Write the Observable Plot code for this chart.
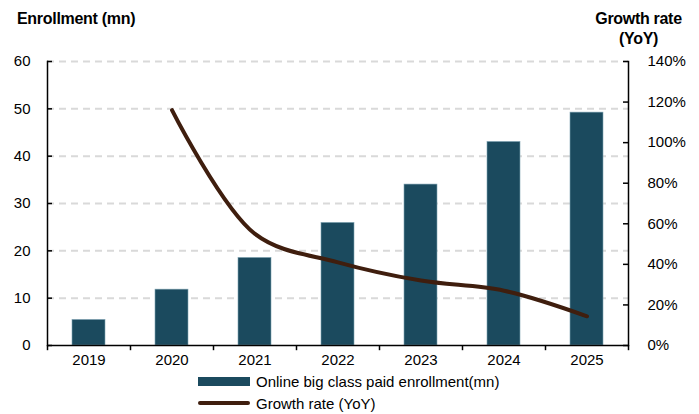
<!DOCTYPE html>
<html>
<head>
<meta charset="utf-8">
<script src="https://cdn.jsdelivr.net/npm/d3@7"></script>
<script src="https://cdn.jsdelivr.net/npm/@observablehq/plot@0.6"></script>
<style>
  html, body { margin: 0; padding: 0; background: #fff; }
  #wrap { position: relative; width: 699px; height: 414px; font-family: "Liberation Sans", Arial, sans-serif; color: #000; }
  #wrap svg { position: absolute; left: 0; top: 0; }
  .title { position: absolute; font-weight: bold; font-size: 16px; letter-spacing: -0.3px; line-height: 20px; }
  .legend { position: absolute; left: 198px; font-size: 15px; }
  .legrow { display: flex; align-items: center; height: 22px; }
  .sw { width: 52px; margin-right: 6px; }
</style>
</head>
<body>
<div id="wrap">
  <div class="title" style="left:17px; top:9px;">Enrollment (mn)</div>
  <div class="title" style="left:590px; width:97px; top:9px; text-align:center;">Growth rate<br>(YoY)</div>
  <div class="legend" style="top:370px;">
    <div class="legrow"><div class="sw" style="height:9px; background:#1b4a5e;"></div><span>Online big class paid enrollment(mn)</span></div>
    <div class="legrow"><div class="sw" style="height:4px; border-radius:2px; background:#3f1e0e;"></div><span>Growth rate (YoY)</span></div>
  </div>
</div>
<script>
const years = ["2019", "2020", "2021", "2022", "2023", "2024", "2025"];
const enrollment = [5.4, 11.8, 18.5, 25.9, 34.0, 43.0, 49.2];
const growthYears = ["2020", "2021", "2022", "2023", "2024", "2025"];
const growth = [116, 55, 41, 32, 27, 14.4];
const leftTicks = [0, 10, 20, 30, 40, 50, 60];
const rightTicks = [0, 20, 40, 60, 80, 100, 120, 140];

const leftMax = 60, rightMax = 140;
const toLeft = p => p * leftMax / rightMax;

const bars = years.map((y, i) => ({year: y, value: enrollment[i]}));
const line = growthYears.map((y, i) => ({year: y, value: growth[i]}));
const boundaries = years.map(y => ({year: y}));

const chart = Plot.plot({
  width: 699,
  height: 414,
  marginLeft: 47,
  marginRight: 71,
  marginTop: 61,
  marginBottom: 69,
  style: {fontFamily: "'Liberation Sans', Arial, sans-serif", fontSize: "15px", color: "#000", background: "transparent"},
  x: {type: "band", domain: years, paddingInner: 0.6, paddingOuter: 0.3, label: null},
  y: {domain: [0, leftMax], label: null},
  marks: [
    // dashed gridlines
    Plot.ruleY(leftTicks.filter(d => d > 0), {y: d => d, stroke: "#d9d9d9", strokeWidth: 2, strokeDasharray: "7,5"}),
    // bars
    Plot.barY(bars, {x: "year", y: "value", fill: "#1b4a5e", stroke: "#7fa3b3", strokeWidth: 0.6}),
    // growth line (right axis)
    Plot.line(line, {x: "year", y: d => toLeft(d.value), stroke: "#3f1e0e", strokeWidth: 4, curve: "catmull-rom", strokeLinecap: "round"}),
    // left axis labels
    Plot.axisY({anchor: "left", ticks: leftTicks, tickSize: 0, tickPadding: 17, fontSize: 15, label: null}),
    // right axis labels
    Plot.axisY({anchor: "right", ticks: rightTicks.map(toLeft), tickFormat: d => Math.round(d * rightMax / leftMax) + "%", tickSize: 0, tickPadding: 19, fontSize: 15, label: null}),
    // inside ticks on left axis
    Plot.ruleY(leftTicks, {y: d => d, stroke: "#000", strokeWidth: 1.5, insetRight: 699 - 47 - 71 - 5}),
    // inside ticks on right axis
    Plot.ruleY(rightTicks.map(toLeft), {y: d => d, stroke: "#000", strokeWidth: 1.5, insetLeft: 699 - 47 - 71 - 5}),
    // axis lines
    Plot.frame({anchor: "left", stroke: "#000", strokeWidth: 1.5}),
    Plot.frame({anchor: "right", stroke: "#000", strokeWidth: 1.5}),
    Plot.ruleY([0], {stroke: "#000", strokeWidth: 1.5}),
    // x axis labels
    Plot.axisX({tickSize: 0, tickPadding: 9, fontSize: 15, label: null}),
    // x category boundary ticks (downward)
    Plot.ruleX(boundaries, {x: "year", dx: -41.5, y1: 0, y2: -1.1, stroke: "#000", strokeWidth: 1.5}),
    Plot.ruleX([{year: years[years.length - 1]}], {x: "year", dx: 41.5, y1: 0, y2: -1.1, stroke: "#000", strokeWidth: 1.5})
  ]
});
document.getElementById("wrap").prepend(chart);
</script>
</body>
</html>
